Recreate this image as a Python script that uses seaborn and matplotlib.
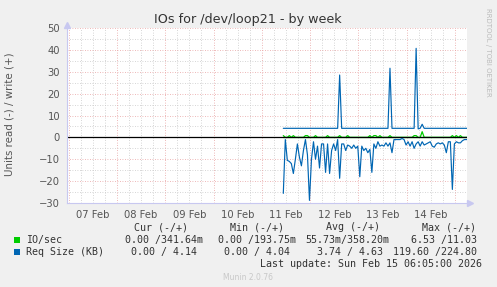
import matplotlib
matplotlib.use("Agg")
import matplotlib.pyplot as plt
import seaborn as sns
import numpy as np
import pandas as pd

sns.set_theme(style="white")
plt.rcParams['font.family'] = ['DejaVu Sans']

# ---- data ----
day_labels = ["07 Feb", "08 Feb", "09 Feb", "10 Feb", "11 Feb", "12 Feb", "13 Feb", "14 Feb"]
start_day = 4.445          # first sample, days after 07 Feb 00:00
step_hours = 1.0

req_read = [-25.6, -1, -10.5, -11, -12, -16.5, -10, -3, -9, -13,
            -6, -1, -8, -28.8, -10, -2, -10, -4, -14, -3,
            -3, -16, -3, -16.5, -6, -3, -6, -1, -18.7, -3,
            -3, -6, -3.5, -4, -5, -3.5, -5, -4, -18, -4,
            -6, -5, -7, -5.5, -16, -3, -5, -2, -4, -3.5,
            -4, -2.5, -4, -2.5, -7, -1, -1, -1, -1, -0.5,
            -1, -3.5, -2, -4, -2, -5, -3, -2, -4, -2,
            -3.5, -3, -2.5, -2, -4, -4.5, -3, -2.5, -3, -2.5,
            -3.5, -7, -2, -2, -23.8, -3, -2, -2.5, -2.5, -1.5,
            -1, -1, -1]
req_write = [4.14] * 28 + [28.5] + [4.14] * 24 + [31.6] + [4.14] * 12 + [40.7, 3.9, 4.14, 6.0] + [4.14] * 23

io_write = [0.8, 0.0, 0.0, 0.8, 0.0, 0.8, 0.0, 0.0, 0.0, 0.0,
            0.0, 0.8, 0.8, 0.0, 0.0, 0.0, 0.8, 0.0, 0.0, 0.0,
            0.0, 0.0, 0.8, 0.0, 0.0, 0.0, 0.0, 0.0, 0.8, 0.0,
            0.0, 0.0, 0.8, 0.0, 0.0, 0.0, 0.0, 0.0, 0.0, 0.0,
            0.0, 0.0, 0.0, 0.8, 0.0, 0.8, 0.8, 0.0, 0.8, 0.0,
            0.0, 0.0, 0.0, 0.8, 0.0, 0.0, 0.0, 0.0, 0.0, 0.0,
            0.0, 0.0, 0.0, 0.0, 0.0, 0.8, 0.8, 0.0, 0.0, 2.6,
            0.0, 0.0, 0.0, 0.0, 0.0, 0.0, 0.0, 0.0, 0.0, 0.0,
            0.0, 0.0, 0.0, 0.0, 0.8, 0.0, 0.8, 0.0, 0.8, 0.0,
            0.0, 0.0, 0.0]
io_read = [0.0] * 93

legend_names = ["IO/sec", "Req Size (KB)"]
legend_colors = ["#00CC00", "#0066B3"]
io_vals = ["0.00 /341.64m", "0.00 /193.75m", "55.73m/358.20m", "6.53 /11.03"]
req_vals = ["0.00 / 4.14", "0.00 / 4.04", "3.74 / 4.63", "119.60 /224.80"]
col_heads = ["Cur (-/+)", "Min (-/+)", "Avg (-/+)", "Max (-/+)"]

# ---- figure ----
W, H = 497, 287
fig = plt.figure(figsize=(W / 100, H / 100), dpi=100, facecolor="#F0F0F0")
L, R, T, B = 67, 467, 28, 203
ax = fig.add_axes([L / W, 1 - B / H, (R - L) / W, (B - T) / H])
ax.set_facecolor("white")

n = len(req_read)
t = start_day + np.arange(n) * step_hours / 24.0
df = pd.DataFrame({"t": t, "req_read": req_read, "req_write": req_write,
                   "io_read": io_read, "io_write": io_write})

xmin, xmax = -0.033, 8.248
ymin, ymax = -30, 50

# grid
for d in np.arange(0, 8.25, 0.25):
    if abs(d - round(d)) < 1e-6:
        continue
    ax.axvline(d, color="#C8C8C8", lw=0.6, ls=(0, (1, 2)), zorder=0)
for y in range(-25, 50, 10):
    ax.axhline(y, color="#C8C8C8", lw=0.6, ls=(0, (1, 2)), zorder=0)
for d in range(0, 9):
    ax.axvline(d, color="#E8A0A0", lw=0.6, ls=(0, (1, 2)), zorder=0.5)
for y in range(-30, 51, 10):
    ax.axhline(y, color="#E8A0A0", lw=0.6, ls=(0, (1, 2)), zorder=0.5)

sns.lineplot(data=df, x="t", y="io_read", ax=ax, color="#00CC00", lw=0.9, zorder=2)
sns.lineplot(data=df, x="t", y="io_write", ax=ax, color="#00CC00", lw=0.9, zorder=2)
ax.axhline(0, color="black", lw=0.9, zorder=2.5)
sns.lineplot(data=df, x="t", y="req_read", ax=ax, color="#0066B3", lw=0.85, zorder=3)
sns.lineplot(data=df, x="t", y="req_write", ax=ax, color="#0066B3", lw=0.85, zorder=3)

ax.set_xlim(xmin, xmax)
ax.set_ylim(ymin, ymax)
ax.set_xlabel("")
ax.set_ylabel("")

ax.set_xticks(np.arange(0, 9))
ax.set_xticklabels([])
ax.set_xticks(np.arange(8) + 0.5, minor=True)
ax.set_xticklabels(day_labels, minor=True)
ax.tick_params(axis="x", which="major", length=3, color="#E8A0A0", direction="out")
ax.tick_params(axis="x", which="minor", length=0, pad=5, labelsize=7.2, labelcolor="#555555")
ax.set_yticks(range(-30, 51, 10))
ax.tick_params(axis="y", which="major", length=2, color="#E8A0A0", pad=3, labelsize=7.2, labelcolor="#555555")

for s in ["top", "right"]:
    ax.spines[s].set_visible(False)
for s in ["left", "bottom"]:
    ax.spines[s].set_color("#C8C8F0")
    ax.spines[s].set_linewidth(0.8)
ax.plot([xmin], [ymax + 1.2], marker="^", color="#C8C8F0", ms=4, clip_on=False)
ax.plot([xmax + 0.07], [ymin], marker=">", color="#C8C8F0", ms=4, clip_on=False)

def px(x, y):
    return x / W, 1 - y / H

fig.text(*px(248, 19), "IOs for /dev/loop21 - by week", ha="center", va="center",
         fontsize=9.2, color="#333333")
fig.text(*px(10, 114), "Units read (-) / write (+)", rotation=90, ha="center", va="center",
         fontsize=7.4, color="#555555")
fig.text(*px(488, 52), "RRDTOOL / TOBI OETIKER", rotation=-90, ha="center", va="center",
         fontsize=5, color="#BBBBBB")

mono = "DejaVu Sans Mono"
fs = 7.2
col_centers = [161, 257, 353, 449]
for c, h in zip(col_centers, col_heads):
    fig.text(*px(c, 227), h, ha="center", va="center", family=mono, fontsize=fs, color="#333333")
row_right = [[203, 296, 389, 477], [197, 290, 383, 477]]
for r, (name, col, vals) in enumerate(zip(legend_names, legend_colors, [io_vals, req_vals])):
    yy = 240 + r * 12
    fig.patches.append(plt.Rectangle(px(14, yy + 3), 6 / W, 6 / H, transform=fig.transFigure,
                                     facecolor=col, edgecolor="none"))
    fig.text(*px(26, yy), name, ha="left", va="center", family=mono, fontsize=fs, color="#333333")
    for cr, v in zip(row_right[r], vals):
        fig.text(*px(cr, yy), v, ha="right", va="center", family=mono, fontsize=fs, color="#333333")
fig.text(*px(482, 264), "Last update: Sun Feb 15 06:05:00 2026", ha="right", va="center",
         family=mono, fontsize=fs, color="#333333")
fig.text(*px(248, 277), "Munin 2.0.76", ha="center", va="center", fontsize=5.5, color="#C8C8C8")

fig.savefig("out.png", dpi=100, facecolor=fig.get_facecolor())
